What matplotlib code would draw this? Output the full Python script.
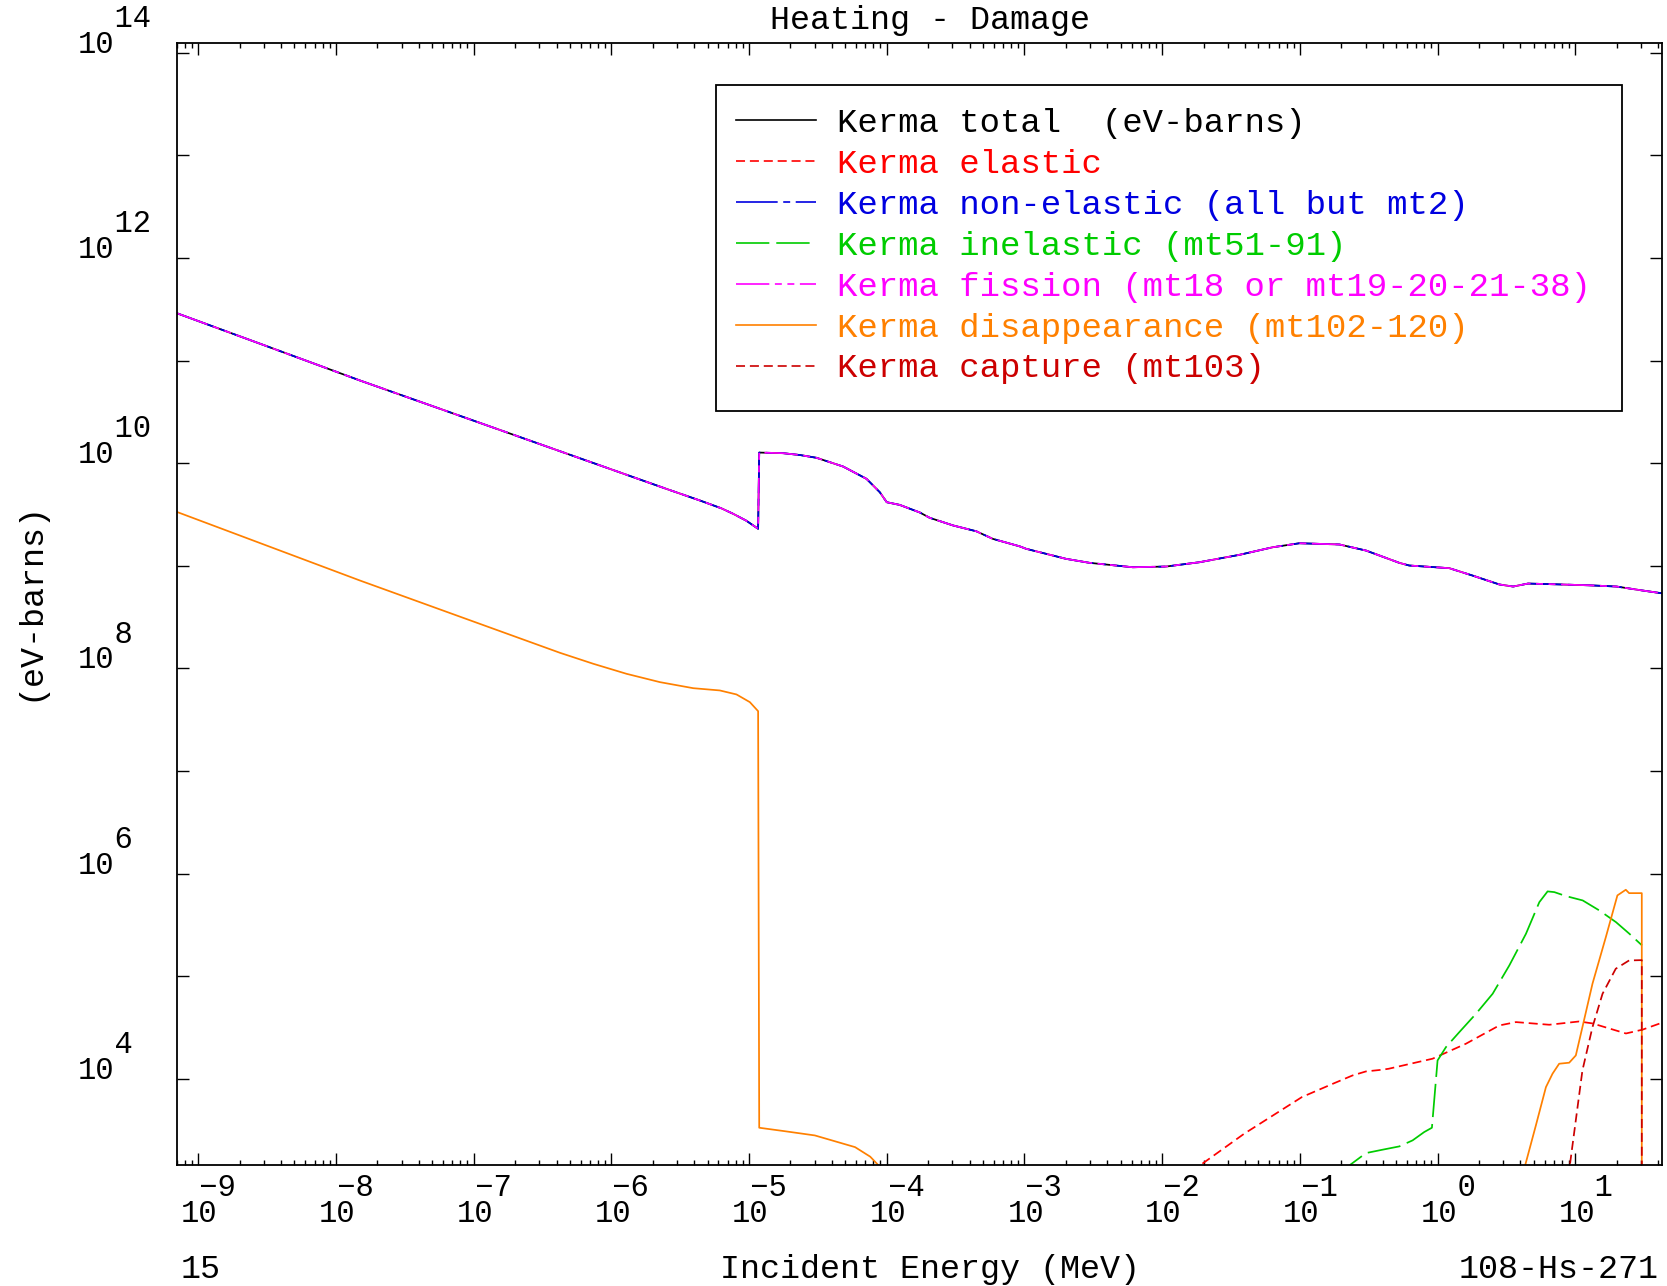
import numpy as np
import matplotlib
matplotlib.use('Agg')
import matplotlib.pyplot as plt
from matplotlib.patches import Rectangle
from matplotlib.ticker import LogLocator, NullFormatter, NullLocator

plt.rcParams['font.family'] = ['Liberation Mono', 'DejaVu Sans']
plt.rcParams['lines.scale_dashes'] = False

# ---- data : log10(E/MeV), log10(kerma/eV-barns) ----
total_logE = [-9.16, -8.5, -7.824, -7.0, -6.0, -5.6, -5.357, -5.2, -5.115, -5.02, -4.934,
              -4.926, -4.753, -4.63, -4.51, -4.317, -4.147, -4.05, -4.0, -3.906, -3.76, -3.688,
              -3.517, -3.35, -3.23, -3.035, -2.988, -2.698, -2.527, -2.213, -1.971, -1.729,
              -1.439, -1.197, -1.003, -0.713, -0.52, -0.278, -0.206, 0.085, 0.254, 0.449,
              0.549, 0.657, 0.85, 1.1, 1.30, 1.485, 1.64]
total_logK = [11.465, 11.14, 10.806, 10.415, 9.94, 9.75, 9.637, 9.56, 9.507, 9.44, 9.361,
              10.104, 10.098, 10.08, 10.053, 9.968, 9.848, 9.717, 9.62, 9.594, 9.52, 9.468,
              9.393, 9.337, 9.263, 9.19, 9.166, 9.068, 9.029, 8.986, 8.993, 9.035,
              9.107, 9.181, 9.22, 9.208, 9.149, 9.029, 9.003, 8.977, 8.905, 8.818,
              8.798, 8.827, 8.82, 8.81, 8.798, 8.76, 8.73]
# non-elastic and fission coincide with the total on this scale
nonel_logK = total_logK
fission_logK = total_logK

elastic_logE = [-2.2, -1.72, -1.404, -0.985, -0.76, -0.617, -0.52, -0.4, -0.355, -0.036,
                0.206, 0.448, 0.569, 0.811, 1.028, 1.125, 1.368, 1.488, 1.609, 1.64]
elastic_logK = [2.7, 3.16, 3.464, 3.821, 3.951, 4.032, 4.071, 4.088, 4.097, 4.195,
                4.341, 4.519, 4.552, 4.526, 4.558, 4.539, 4.441, 4.478, 4.536, 4.55]

inel_logE = [-0.7, -0.633, -0.52, -0.399, -0.278, -0.181, -0.097, -0.041, 0.0, 0.061,
             0.158, 0.279, 0.4, 0.521, 0.642, 0.739, 0.799, 0.848, 0.933, 1.054,
             1.175, 1.296, 1.393, 1.485]
inel_logK = [3.0, 3.162, 3.275, 3.308, 3.34, 3.399, 3.48, 3.522, 4.178, 4.308,
             4.454, 4.633, 4.828, 5.104, 5.413, 5.721, 5.826, 5.819, 5.78, 5.738,
             5.64, 5.526, 5.413, 5.299]

disap_logE = [-9.16, -7.824, -6.373, -6.131, -5.889, -5.647, -5.405, -5.212, -5.091,
              -4.994, -4.934, -4.926, -4.75, -4.522, -4.23, -4.12, -4.063, -3.9,
              0.5, 0.637, 0.714, 0.787, 0.835, 0.883, 0.956, 1.004, 1.052, 1.125,
              1.222, 1.306, 1.367, 1.391, 1.483, 1.483]
disap_logK = [9.528, 8.856, 8.152, 8.045, 7.947, 7.866, 7.807, 7.785, 7.746,
              7.671, 7.583, 3.522, 3.49, 3.447, 3.333, 3.24, 3.16, 2.5,
              2.5, 3.16, 3.545, 3.918, 4.049, 4.146, 4.156, 4.227, 4.503, 4.926,
              5.38, 5.787, 5.842, 5.809, 5.809, 2.0]

capture_logE = [0.9, 0.961, 1.052, 1.125, 1.198, 1.294, 1.391, 1.483, 1.483]
capture_logK = [2.5, 3.16, 4.081, 4.503, 4.828, 5.072, 5.153, 5.156, 2.0]

x_tick_exponents = [-9, -8, -7, -6, -5, -4, -3, -2, -1, 0, 1]
y_label_exponents = [4, 6, 8, 10, 12, 14]

labels = ['Kerma total  (eV-barns)',
          'Kerma elastic',
          'Kerma non-elastic (all but mt2)',
          'Kerma inelastic (mt51-91)',
          'Kerma fission (mt18 or mt19-20-21-38)',
          'Kerma disappearance (mt102-120)',
          'Kerma capture (mt103)']

# ---- figure ----
fig = plt.figure(figsize=(16.67, 12.86), dpi=100)
ax = fig.add_axes([0.1061, 0.0943, 0.9973 - 0.1061, 0.9663 - 0.0943])
ax.set_xscale('log')
ax.set_yscale('log')

p = lambda a: np.power(10.0, np.asarray(a, dtype=float))
lw = 1.25
ax.plot(p(total_logE), p(total_logK), color='black', lw=lw, ls='-', label=labels[0])
ax.plot(p(elastic_logE), p(elastic_logK), color='#FF0000', lw=lw, ls=(0, (6.5, 3.5)), label=labels[1])
ax.plot(p(total_logE), p(nonel_logK), color='#0000E0', lw=lw, ls=(0, (30, 4, 5, 4)), label=labels[2])
ax.plot(p(inel_logE), p(inel_logK), color='#00CC00', lw=lw, ls=(0, (24, 5)), label=labels[3])
ax.plot(p(total_logE), p(fission_logK), color='#FF00FF', lw=lw, ls=(0, (24, 4, 5, 4, 5, 4)), label=labels[4])
ax.plot(p(disap_logE), p(disap_logK), color='#FF8000', lw=lw, ls='-', label=labels[5])
ax.plot(p(capture_logE), p(capture_logK), color='#CC0000', lw=lw, ls=(0, (6.5, 3.5)), label=labels[6])

ax.set_xlim(7.0e-10, 43.0)
ax.set_ylim(1.45e3, 1.24e14)

ax.xaxis.set_major_locator(LogLocator(base=10, numticks=100))
ax.xaxis.set_minor_locator(LogLocator(base=10, subs=np.arange(2, 10) * 1.0, numticks=100))
ax.yaxis.set_major_locator(LogLocator(base=10, numticks=100))
ax.yaxis.set_minor_locator(NullLocator())
ax.xaxis.set_major_formatter(NullFormatter())
ax.xaxis.set_minor_formatter(NullFormatter())
ax.yaxis.set_major_formatter(NullFormatter())
ax.tick_params(which='both', direction='in', top=True, right=True, width=1.0, colors='black')
ax.tick_params(which='major', length=8.3)
ax.tick_params(which='minor', length=3.8)
for s in ax.spines.values():
    s.set_linewidth(1.3)

tick_fs = 22
lsp = 0.82
# x tick labels: exponent on a raised line, minus sign above the "0"
for k in x_tick_exponents:
    sup = (' \u2212' if k < 0 else '  ') + str(abs(k))
    ax.annotate(sup + '\n10', xy=(10.0 ** k, 0), xycoords=ax.get_xaxis_transform(),
                xytext=(-17, -57), textcoords='offset pixels', ha='left', va='baseline',
                multialignment='left', linespacing=lsp, fontsize=tick_fs,
                annotation_clip=False)
# y tick labels
for k in y_label_exponents:
    ax.annotate('  ' + str(k) + '\n10', xy=(0, 10.0 ** k), xycoords=ax.get_yaxis_transform(),
                xytext=(-99, 0), textcoords='offset pixels', ha='left', va='baseline',
                multialignment='left', linespacing=lsp, fontsize=tick_fs,
                annotation_clip=False)

# legend frame and entries
ax.add_patch(Rectangle((0.363, 0.6725), 0.9727 - 0.363, 0.9628 - 0.6725,
                       transform=ax.transAxes, facecolor='white', edgecolor='black',
                       lw=1.3, zorder=4))
leg = ax.legend(loc='center left', bbox_to_anchor=(0.3765, 0.819), prop={'size': 24.5},
                labelcolor='linecolor', frameon=False,
                handlelength=2.35, handletextpad=0.62, borderpad=0.0, labelspacing=0.29,
                borderaxespad=0)
leg.set_zorder(5)
for h in leg.get_lines():
    h.set_linewidth(1.2)

fs = 24
fig.text(930 / 1667, 1 - 29 / 1286, 'Heating - Damage', ha='center', va='baseline', fontsize=fs)
fig.text(930 / 1667, 1 - 1278 / 1286, 'Incident Energy (MeV)', ha='center', va='baseline', fontsize=fs)
fig.text(181 / 1667, 1 - 1278 / 1286, '15', ha='left', va='baseline', fontsize=fs)
fig.text(1659 / 1667, 1 - 1278 / 1286, '108-Hs-271', ha='right', va='baseline', fontsize=fs)
fig.text(30 / 1667, 1 - 601 / 1286, '(eV-barns)', ha='center', va='center', rotation=90, fontsize=fs)

fig.savefig('out.png', dpi=100)
